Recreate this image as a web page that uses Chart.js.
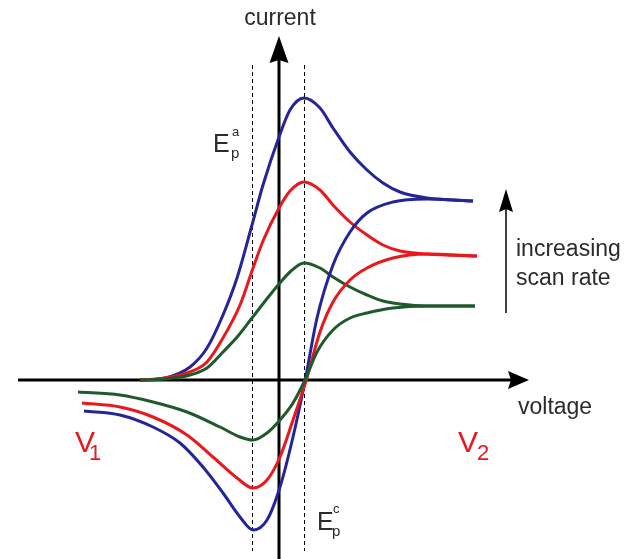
<!DOCTYPE html>
<html>
<head>
<meta charset="utf-8">
<script src="https://cdn.jsdelivr.net/npm/chart.js@4"></script>
<style>
  html, body { margin: 0; padding: 0; background: #fff; }
  #cv { display: block; }
</style>
</head>
<body>
<canvas id="cv" width="639" height="559"></canvas>
<script>
// voltage (x) / current (y), arbitrary units, origin where the two axes cross
const blueForward = [[-139,0],[-114,2],[-89,13],[-72,32],[-56,65],[-42,102],[-27,155],[-16,195],[0,243],[11,270],[25,282],[41,272],[54,252],[71,228],[88,210],[104,197],[121,188],[148,182],[194,179]];
const blueReverse = [[-195,-31],[-159,-35],[-126,-47],[-99,-63],[-76,-87],[-56,-113],[-39,-137],[-26,-150],[-12,-140],[1,-107],[14,-57],[26,-1],[38,62],[54,115],[71,148],[88,167],[114,178],[148,181],[194,179]];

const redForward = [[-139,0],[-114,2],[-89,8],[-72,18],[-56,42],[-39,75],[-27,109],[-16,139],[0,172],[11,189],[25,198],[41,190],[54,175],[71,158],[88,145],[104,135],[121,129],[148,126],[198,124]];
const redReverse = [[-197,-23],[-159,-27],[-126,-37],[-92,-55],[-66,-77],[-42,-98],[-26,-108],[-12,-100],[1,-77],[14,-40],[27,-1],[41,48],[54,78],[71,100],[88,112],[114,122],[148,126],[198,124]];

const greenForward = [[-139,0],[-114,1],[-89,5],[-72,12],[-56,28],[-41,44],[-27,62],[-13,80],[0,96],[12,109],[25,117],[41,112],[54,103],[71,93],[88,85],[104,79],[121,76],[148,74],[196,74]];
const greenReverse = [[-201,-12],[-159,-15],[-126,-22],[-92,-32],[-59,-47],[-39,-57],[-26,-60],[-12,-53],[1,-40],[14,-23],[26,0],[38,28],[54,50],[71,62],[88,67],[114,72],[148,74],[196,74]];

const EP_LEFT = -27;
const EP_RIGHT = 25;

const COLORS = { blue: '#25259a', red: '#e8181c', green: '#1e5a2c' };

function curve(points, color) {
    return {
        data: points.map(p => ({ x: p[0], y: p[1] })),
        borderColor: color,
        borderWidth: 3,
        pointRadius: 0,
        fill: false,
        cubicInterpolationMode: 'monotone'
    };
}

function text(ctx, str, x, y, size, color) {
    ctx.font = size + 'px "Liberation Sans", Arial, Helvetica, sans-serif';
    ctx.fillStyle = color;
    ctx.fillText(str, x, y);
}

const decorPlugin = {
    id: 'decor',
    beforeDatasetsDraw(chart) {
        const { ctx, scales: { x, y } } = chart;
        const x0 = x.getPixelForValue(0);
        const y0 = y.getPixelForValue(0);
        ctx.save();

        // dashed lines through the peaks
        ctx.strokeStyle = '#000';
        ctx.lineWidth = 1;
        ctx.setLineDash([4, 3]);
        for (const v of [EP_LEFT, EP_RIGHT]) {
            const px = Math.round(x.getPixelForValue(v)) + 0.5;
            ctx.beginPath();
            ctx.moveTo(px, 65);
            ctx.lineTo(px, 551);
            ctx.stroke();
        }
        ctx.setLineDash([]);

        // axes
        ctx.lineWidth = 3;
        ctx.beginPath();
        ctx.moveTo(18, y0); ctx.lineTo(512, y0);
        ctx.moveTo(x0, 559); ctx.lineTo(x0, 60);
        ctx.stroke();
        ctx.fillStyle = '#000';
        ctx.beginPath();
        ctx.moveTo(529, y0); ctx.lineTo(508, y0 - 9); ctx.lineTo(511, y0); ctx.lineTo(508, y0 + 9);
        ctx.closePath(); ctx.fill();
        ctx.beginPath();
        ctx.moveTo(x0, 36); ctx.lineTo(x0 - 9.5, 63); ctx.lineTo(x0, 60); ctx.lineTo(x0 + 9.5, 63);
        ctx.closePath(); ctx.fill();

        // scan-rate arrow
        ctx.lineWidth = 1.5;
        ctx.beginPath();
        ctx.moveTo(506, 313); ctx.lineTo(506, 205);
        ctx.stroke();
        ctx.beginPath();
        ctx.moveTo(506, 189); ctx.lineTo(499, 212); ctx.lineTo(506, 209); ctx.lineTo(513, 212);
        ctx.closePath(); ctx.fill();
        ctx.restore();
    },
    afterDraw(chart) {
        const { ctx } = chart;
        ctx.save();
        const ink = '#2b2b2b';
        ctx.textAlign = 'center';
        text(ctx, 'current', 280, 25, 23, ink);
        ctx.textAlign = 'left';
        text(ctx, 'voltage', 518, 414, 23, ink);
        text(ctx, 'increasing', 516, 256, 23, ink);
        text(ctx, 'scan rate', 516, 285, 23, ink);

        text(ctx, 'V', 75, 452, 30, COLORS.red);
        text(ctx, '1', 89, 460, 22, COLORS.red);
        text(ctx, 'V', 458, 452, 30, COLORS.red);
        text(ctx, '2', 477, 460, 22, COLORS.red);

        text(ctx, 'E', 213, 152, 25, ink);
        text(ctx, 'a', 232, 136, 13, ink);
        text(ctx, 'p', 231, 158, 15, ink);
        text(ctx, 'E', 317, 530, 25, ink);
        text(ctx, 'c', 333, 513, 13, ink);
        text(ctx, 'p', 332, 536, 15, ink);
        ctx.restore();
    }
};

new Chart(document.getElementById('cv'), {
    type: 'line',
    data: {
        datasets: [
            curve(greenReverse, COLORS.green),
            curve(redReverse, COLORS.red),
            curve(blueReverse, COLORS.blue),
            curve(greenForward, COLORS.green),
            curve(redForward, COLORS.red),
            curve(blueForward, COLORS.blue)
        ]
    },
    options: {
        responsive: false,
        animation: false,
        layout: { padding: 0 },
        plugins: { legend: { display: false }, tooltip: { enabled: false } },
        scales: {
            x: { type: 'linear', min: -279, max: 360, display: false },
            y: { type: 'linear', min: -179, max: 380, display: false }
        }
    },
    plugins: [decorPlugin]
});
</script>
</body>
</html>
